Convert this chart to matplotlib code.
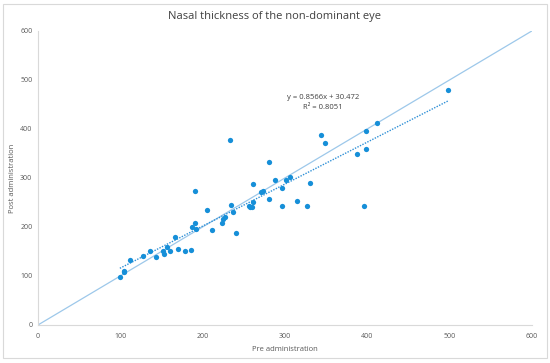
import numpy as np
import matplotlib.pyplot as plt
from matplotlib.patches import Rectangle

plt.rcParams['font.family'] = ['Open Sans', 'DejaVu Sans']

pre = [233, 344, 349, 412, 399, 388, 398, 498, 281, 261,
       288, 301, 306, 297, 330, 271, 274, 281, 315, 296,
       327, 396, 261, 256, 258, 260, 235, 205, 237, 227,
       225, 224, 211, 241, 191, 191, 187, 192, 167, 157,
       152, 153, 160, 170, 179, 186, 136, 128, 143, 112,
       104, 104, 99.5]
post = [378, 388, 372, 412, 395, 348, 360, 480, 332, 287,
        295, 295, 301, 279, 289, 271, 274, 257, 254, 243,
        243, 243, 250, 243, 240, 240, 245, 235, 230, 221,
        216, 208, 193, 188, 274, 208, 200, 196, 179, 160,
        152, 144, 152, 156, 151, 153, 150, 141, 139, 133,
        111, 108, 98]

slope = 0.8566
intercept = 30.472
r2 = 0.8051

pre = np.array(pre)
post = np.array(post)

fig = plt.figure(figsize=(5.5, 3.63), dpi=100)
ax = fig.add_axes([0.069, 0.1047, 0.898, 0.81])

# line of equality
ax.plot([0, 600], [0, 600], color='#9dc8ea', lw=0.9, zorder=1)

# linear trendline
xs = np.array([pre.min(), pre.max()])
ax.plot(xs, slope * xs + intercept, color='#2e8fd6', lw=1.0, ls=(0, (1, 1)), zorder=2)

ax.plot(pre, post, 'o', color='#168fd8', ms=3.8, mew=0, zorder=3)

ax.text(346, 454, 'y = 0.8566x + 30.472\nR² = %.4f' % r2, ha='center', va='center',
        fontsize=5.5, color='#404040', linespacing=1.5)

ax.set_xlim(0, 600)
ax.set_ylim(0, 600)
ax.set_xticks(range(0, 601, 100))
ax.set_yticks(range(0, 601, 100))
ax.tick_params(length=0, labelsize=5, labelcolor='#595959', pad=6)
ax.tick_params(axis='y', pad=4)
for s in ['top', 'right']:
    ax.spines[s].set_visible(False)
for s in ['left', 'bottom']:
    ax.spines[s].set_color('#d9d9d9')
    ax.spines[s].set_linewidth(0.8)

ax.set_xlabel('Pre administration', fontsize=5.5, color='#595959', labelpad=4)
ax.set_ylabel('Post administration', fontsize=5.5, color='#595959', labelpad=3)
fig.text(0.5, 0.955, 'Nasal thickness of the non-dominant eye', ha='center', va='center',
         fontsize=8, color='#404040')

fig.patches.append(Rectangle((0.006, 0.014), 0.988, 0.975, transform=fig.transFigure,
                             fill=False, edgecolor='#d9d9d9', lw=0.8))

fig.savefig('out.png', dpi=100)
